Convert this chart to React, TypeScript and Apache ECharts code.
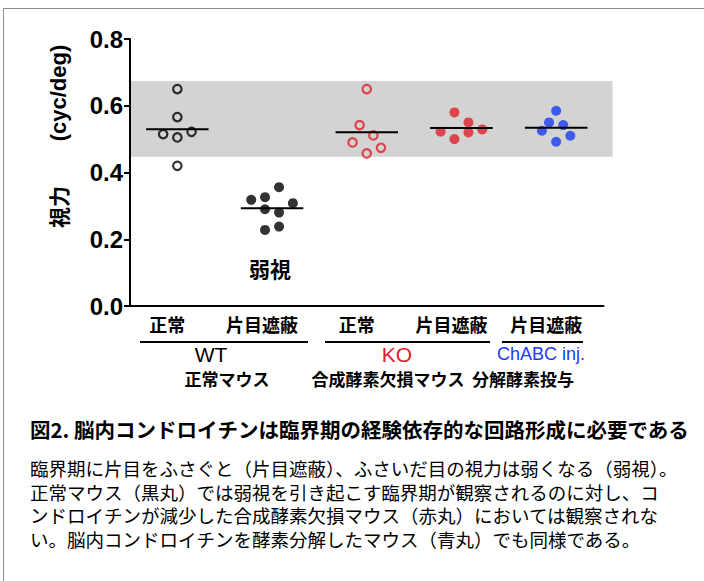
import React, { useEffect, useRef } from "react";
import * as echarts from "echarts";

// ---- data ----
const categories = ["正常", "片目遮蔽", "正常", "片目遮蔽", "片目遮蔽"];
const yTickValues = [0, 0.2, 0.4, 0.6, 0.8];
const normalRange = [0.447, 0.674];

const wtNormal = [0.65, 0.566, 0.515, 0.505, 0.522, 0.42];
const wtNormalJitter = [0, 0, -0.15, 0, 0.15, 0];
const wtDeprived = [0.356, 0.318, 0.326, 0.308, 0.29, 0.28, 0.228, 0.238];
const wtDeprivedJitter = [0.074, -0.22, -0.074, 0.22, -0.074, 0.074, -0.074, 0.074];
const koNormal = [0.65, 0.542, 0.511, 0.49, 0.474, 0.457];
const koNormalJitter = [0, -0.075, 0.07, -0.15, 0.15, 0];
const koDeprived = [0.58, 0.55, 0.522, 0.52, 0.529, 0.5];
const koDeprivedJitter = [-0.074, 0.074, -0.22, 0.074, 0.22, -0.074];
const chabc = [0.585, 0.55, 0.542, 0.525, 0.51, 0.492];
const chabcJitter = [0, -0.075, 0.075, -0.15, 0.15, 0];

const groupLabels = ["WT", "KO", "ChABC inj."];
const groupSubLabels = ["正常マウス", "合成酵素欠損マウス", "分解酵素投与"];
const weakLabel = "弱視";
const yName1 = "視力";
const yName2 = "(cyc/deg)";
const captionTitle = "図2. 脳内コンドロイチンは臨界期の経験依存的な回路形成に必要である";
const captionLines = [
  "臨界期に片目をふさぐと（片目遮蔽）、ふさいだ目の視力は弱くなる（弱視）。",
  "正常マウス（黒丸）では弱視を引き起こす臨界期が観察されるのに対し、コ",
  "ンドロイチンが減少した合成酵素欠損マウス（赤丸）においては観察されな",
  "い。脳内コンドロイチンを酵素分解したマウス（青丸）でも同様である。",
];

const RED = "#e0202a";
const BLUE = "#1a3cf2";
const JP = "'Noto Sans CJK JP', sans-serif";
const LAT = "Arial, 'Liberation Sans', sans-serif";

const mean = (a: number[]) => a.reduce((s, v) => s + v, 0) / a.length;

export default function App() {
  const ref = useRef<HTMLDivElement>(null);
  useEffect(() => {
    if (!ref.current) return;
    const chart = echarts.init(ref.current, null, { renderer: "svg" });

    const groups = [
      { vals: wtNormal, jit: wtNormalJitter, color: "#000", open: true },
      { vals: wtDeprived, jit: wtDeprivedJitter, color: "#000", open: false },
      { vals: koNormal, jit: koNormalJitter, color: RED, open: true },
      { vals: koDeprived, jit: koDeprivedJitter, color: RED, open: false },
      { vals: chabc, jit: chabcJitter, color: BLUE, open: false },
    ];

    const scatterSeries = groups.map((g, gi) => ({
      type: "scatter",
      xAxisIndex: 1,
      yAxisIndex: 0,
      z: 3,
      symbol: "circle",
      symbolSize: g.open ? 8.5 : 10,
      itemStyle: g.open
        ? { color: "rgba(0,0,0,0)", borderColor: g.color, borderWidth: 2.2 }
        : { color: g.color, borderWidth: 0 },
      data: g.vals.map((v, i) => [gi + g.jit[i], v]),
    }));

    const txt = (
      text: string,
      x: number,
      y: number,
      size: number,
      opts: any = {}
    ) => ({
      type: "text",
      x,
      y,
      rotation: opts.rotation || 0,
      z: 10,
      style: {
        text,
        fontSize: size,
        fontFamily: opts.family || JP,
        fontWeight: opts.weight || "normal",
        fill: opts.color || "#000",
        align: opts.align || "center",
        verticalAlign: "middle",
      },
    });
    const hline = (x1: number, x2: number, y: number) => ({
      type: "line",
      z: 10,
      shape: { x1, y1: y, x2, y2: y },
      style: { stroke: "#000", lineWidth: 2 },
    });

    chart.setOption({
      animation: false,
      backgroundColor: "#fff",
      grid: { left: 130, top: 39, width: 473.5, height: 267 },
      xAxis: [
        {
          type: "category",
          data: categories,
          boundaryGap: true,
          axisLine: { lineStyle: { color: "#000", width: 2 } },
          axisTick: { alignWithLabel: true, length: 5, lineStyle: { color: "#000", width: 2 } },
          axisLabel: {
            color: "#000",
            fontSize: 18,
            fontWeight: "bold",
            fontFamily: JP,
            margin: 9,
            padding: [0, 20, 0, 0],
          },
          splitLine: { show: false },
        },
        {
          type: "value",
          min: -0.5,
          max: 4.5,
          show: false,
          splitLine: { show: false },
        },
      ],
      yAxis: {
        type: "value",
        min: yTickValues[0],
        max: yTickValues[yTickValues.length - 1],
        interval: 0.2,
        axisLine: { show: true, onZero: false, lineStyle: { color: "#000", width: 2 } },
        axisTick: { show: true, length: 6, lineStyle: { color: "#000", width: 2 } },
        axisLabel: {
          color: "#000",
          fontSize: 24,
          fontWeight: "bold",
          fontFamily: LAT,
          margin: 7,
          formatter: (v: number) => v.toFixed(1),
        },
        splitLine: { show: false },
      },
      series: [
        {
          type: "custom",
          xAxisIndex: 1,
          yAxisIndex: 0,
          z: 1,
          silent: true,
          clip: false,
          data: [[normalRange[0], normalRange[1]]],
          renderItem: (params: any, api: any) => {
            const cs = params.coordSys;
            const yTop = api.coord([0, api.value(1)])[1];
            const yBot = api.coord([0, api.value(0)])[1];
            return {
              type: "rect",
              shape: { x: cs.x + 1, y: yTop, width: cs.width + 8, height: yBot - yTop },
              style: { fill: "#d3d3d3" },
            };
          },
        },
        ...scatterSeries,
        {
          type: "custom",
          xAxisIndex: 1,
          yAxisIndex: 0,
          z: 4,
          silent: true,
          data: groups.map((g, gi) => [gi, mean(g.vals)]),
          renderItem: (params: any, api: any) => {
            const x = api.value(0);
            const y = api.value(1);
            const p1 = api.coord([x - 0.33, y]);
            const p2 = api.coord([x + 0.33, y]);
            return {
              type: "line",
              shape: { x1: p1[0], y1: p1[1], x2: p2[0], y2: p2[1] },
              style: { stroke: "#000", lineWidth: 2 },
            };
          },
        },
      ],
      graphic: [
        {
          type: "rect",
          z: 0,
          shape: { x: 3.5, y: 8.5, width: 760, height: 640 },
          style: { fill: "none", stroke: "#8a8a8a", lineWidth: 1 },
        },
        txt(yName2, 58, 93, 22, { rotation: Math.PI / 2, weight: "bold", family: LAT }),
        txt(yName1, 58, 207, 21, { rotation: Math.PI / 2, weight: "bold" }),
        txt(weakLabel, 270, 268, 21, { weight: "bold" }),
        hline(140, 308, 342),
        hline(325, 490, 342),
        hline(502, 583, 342),
        txt(groupLabels[0], 211, 354, 21, { family: LAT }),
        txt(groupLabels[1], 397, 354, 21, { family: LAT, color: RED }),
        txt(groupLabels[2], 541, 354, 18, { family: LAT, color: BLUE }),
        txt(groupSubLabels[0], 227, 378, 17, { weight: "bold" }),
        txt(groupSubLabels[1], 388, 378, 17, { weight: "bold" }),
        txt(groupSubLabels[2], 523, 378, 17, { weight: "bold" }),
        txt(captionTitle, 30, 429, 20.5, { weight: "bold", align: "left" }),
        ...captionLines.map((l, i) => txt(l, 30, 468 + i * 23.7, 18.5, { align: "left" })),
      ],
    });
    return () => chart.dispose();
  }, []);
  return (
    <div
      ref={ref}
      style={{ position: "fixed", left: 0, top: 0, width: 704, height: 581, background: "#fff" }}
    />
  );
}
